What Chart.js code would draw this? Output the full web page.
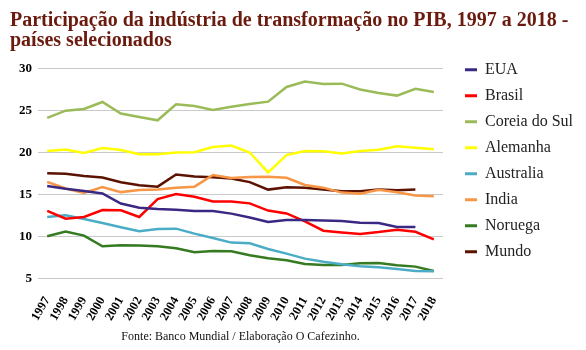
<!DOCTYPE html>
<html>
<head>
<meta charset="utf-8">
<script src="https://cdn.jsdelivr.net/npm/chart.js@4.4.1/dist/chart.umd.min.js"></script>
<style>
  html, body { margin: 0; padding: 0; background: #fff; }
  #wrap { width: 586px; height: 350px; }
</style>
</head>
<body>
<div id="wrap"><canvas id="chart" width="586" height="350"></canvas></div>
<script>
// anos 1997 a 2018
const years = ['1997', '1998', '1999', '2000', '2001', '2002', '2003', '2004', '2005', '2006', '2007',
  '2008', '2009', '2010', '2011', '2012', '2013', '2014', '2015', '2016', '2017', '2018'];

// % do PIB
const eua = [16.0, 15.65, 15.38, 15.1, 13.9, 13.41, 13.25, 13.17, 13.0, 13.0, 12.7,
  12.24, 11.71, 11.94, 11.94, 11.87, 11.81, 11.6, 11.57, 11.11, 11.11, null];
const brasil = [13.03, 12.1, 12.3, 13.13, 13.1, 12.3, 14.42, 15.04, 14.7, 14.15, 14.15,
  13.92, 13.06, 12.72, 11.77, 10.67, 10.46, 10.28, 10.5, 10.79, 10.54, 9.64];
const coreia = [24.1, 24.96, 25.16, 25.99, 24.62, 24.21, 23.81, 25.71, 25.52, 25.04, 25.42,
  25.75, 26.03, 27.78, 28.43, 28.12, 28.17, 27.48, 27.06, 26.75, 27.56, 27.18];
const alemanha = [20.16, 20.34, 19.92, 20.52, 20.28, 19.76, 19.78, 19.98, 20.02, 20.62, 20.8,
  19.98, 17.6, 19.66, 20.16, 20.12, 19.86, 20.16, 20.3, 20.72, 20.54, 20.36];
const australia = [12.3, 12.5, 12.06, 11.59, 11.08, 10.6, 10.87, 10.91, 10.32, 9.8, 9.25,
  9.17, 8.49, 7.94, 7.34, 6.98, 6.67, 6.43, 6.31, 6.11, 5.87, 5.83];
const india = [16.48, 15.69, 15.16, 15.85, 15.26, 15.52, 15.56, 15.77, 15.91, 17.3, 16.94,
  17.06, 17.08, 16.96, 16.11, 15.79, 15.2, 15.06, 15.54, 15.24, 14.86, 14.78];
const noruega = [10.0, 10.56, 10.08, 8.81, 8.93, 8.89, 8.81, 8.57, 8.1, 8.25, 8.22,
  7.74, 7.38, 7.14, 6.71, 6.59, 6.59, 6.79, 6.83, 6.55, 6.39, 5.87];
const mundo = [17.52, 17.44, 17.18, 17.0, 16.43, 16.09, 15.91, 17.36, 17.12, 17.04, 16.88,
  16.45, 15.56, 15.85, 15.77, 15.58, 15.36, 15.36, 15.56, 15.48, 15.56, null];

const yTicks = [5, 10, 15, 20, 25, 30];

const serif = '"Liberation Serif", "Times New Roman", serif';

const series = [
  ['EUA', eua, '#3b2883'],
  ['Brasil', brasil, '#ff0000'],
  ['Coreia do Sul', coreia, '#9bbb59'],
  ['Alemanha', alemanha, '#ffff00'],
  ['Australia', australia, '#4bacc6'],
  ['India', india, '#f79646'],
  ['Noruega', noruega, '#367a21'],
  ['Mundo', mundo, '#5c1200'],
];

const datasets = series.map(([label, data, color]) => ({
  label: label,
  data: data,
  borderColor: color,
  backgroundColor: color,
  borderWidth: 2.5,
  pointRadius: 0,
  tension: 0,
  fill: false,
  spanGaps: false,
}));

new Chart(document.getElementById('chart'), {
  type: 'line',
  data: { labels: years, datasets: datasets },
  options: {
    responsive: false,
    animation: false,
    layout: { padding: { left: 10, right: 15, top: 0, bottom: 0 } },
    scales: {
      x: {
        offset: true,
        grid: { display: false },
        border: { display: false },
        ticks: {
          autoSkip: false,
          minRotation: 60,
          maxRotation: 60,
          padding: 8,
          color: '#000',
          font: { family: serif, size: 12.5, weight: 'bold' },
        },
        afterFit: (scale) => { scale.height = 47.3; },
      },
      y: {
        min: 5,
        max: 30,
        afterBuildTicks: (scale) => { scale.ticks = yTicks.map(v => ({ value: v })); },
        grid: { color: '#c9c9c9', lineWidth: 1, drawTicks: false },
        border: { display: false },
        ticks: {
          padding: 6,
          color: '#000',
          font: { family: serif, size: 13, weight: 'bold' },
        },
        afterFit: (scale) => { scale.width = 28; },
      },
    },
    plugins: {
      title: {
        display: true,
        text: ['Participação da indústria de transformação no PIB, 1997 a 2018 -', 'países selecionados'],
        align: 'start',
        color: '#6b1a0e',
        font: { family: serif, size: 20, weight: 'bold', lineHeight: 1.0 },
        padding: { top: 11, bottom: 17.3 },
      },
      subtitle: {
        display: true,
        position: 'bottom',
        fullSize: false,
        text: 'Fonte: Banco Mundial / Elaboração O Cafezinho.',
        color: '#111',
        font: { family: serif, size: 12, lineHeight: 1.2 },
        padding: { top: 4, bottom: 6 },
      },
      legend: {
        position: 'right',
        align: 'start',
        labels: {
          boxWidth: 12,
          boxHeight: 3,
          padding: 10,
          color: '#222',
          font: { family: serif, size: 16 },
          generateLabels: (chart) => Chart.defaults.plugins.legend.labels.generateLabels(chart)
            .map(item => Object.assign(item, { lineWidth: 0 })),
        },
      },
      tooltip: { enabled: false },
    },
  },
  plugins: [{
    id: 'legendShift',
    afterLayout: (chart) => {
      // a legenda fica um pouco afastada e acima da área do gráfico
      const lg = chart.legend;
      const dy = (chart.chartArea.top - 16.5) - lg.top;
      lg.top += dy;
      lg.bottom += dy;
      lg.left += 12;
      lg.right += 12;
    },
  }],
});
</script>
</body>
</html>
